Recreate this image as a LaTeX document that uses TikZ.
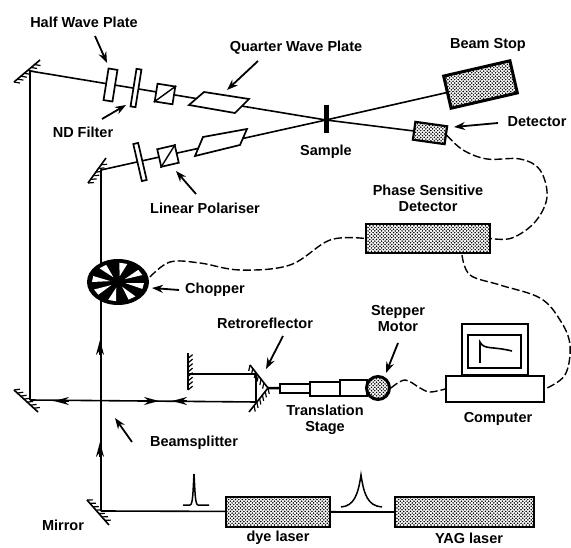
\documentclass[tikz,border=0pt]{standalone}
\usepackage{fontspec}
\setmainfont{Liberation Sans}
\usetikzlibrary{arrows.meta, decorations.pathreplacing, patterns}
\pgfdeclarepatternformonly{fine checks}{\pgfqpoint{-0.1pt}{-0.1pt}}{\pgfqpoint{3.5pt}{3.5pt}}{\pgfqpoint{3.4pt}{3.4pt}}{
  \pgfpathcircle{\pgfqpoint{0.85pt}{0.85pt}}{0.85pt}
  \pgfpathcircle{\pgfqpoint{2.55pt}{2.55pt}}{0.85pt}
  \pgfusepath{fill}}

\begin{document}
\begin{tikzpicture}[x=1pt, y=-1pt, >=Stealth,
    every node/.style={font=\bfseries\fontsize{14.5}{16}\selectfont, align=center, inner sep=0pt},
    beam/.style={line width=1.6pt},
    mirrorup/.style={line width=1.6pt, postaction={draw, line width=1.2pt, decorate,
        decoration={border, segment length=4.5pt, amplitude=6pt, angle=-50}}},
    mirrordown/.style={line width=1.6pt, postaction={draw, line width=1.2pt, decorate,
        decoration={border, segment length=4.5pt, amplitude=6pt, angle=50}}},
    optic/.style={draw, fill=white, line width=1.7pt},
    dotted box/.style={draw, line width=2.2pt, fill=white, postaction={pattern=fine checks}},
    plainbox/.style={draw, fill=white, line width=1.6pt},
    pointer/.style={line width=1.8pt, -{Stealth[length=11pt, width=8pt]}},
    flow/.style={-{Stealth[length=15pt, width=8pt]}, line width=1.6pt},
    wire/.style={dash pattern=on 8pt off 3pt, line width=1.4pt}]
    \useasboundingbox (0,0) rectangle (571,548);

    \coordinate (mirrorTop) at (30,71);
    \coordinate (mirrorLow) at (101,170);
    \coordinate (mirrorLeft) at (30,400);
    \coordinate (mirrorBase) at (101,511);
    \coordinate (crossing) at (326,120);
    \coordinate (stopEnd) at (480,85);
    \coordinate (detEnd) at (430,133);
    \coordinate (retroTop) at (256,374);
    \coordinate (retroLow) at (256,402);
    \coordinate (backMirror) at (189,374);
    \coordinate (retroTip) at (268,388);

    \draw[beam] (mirrorLeft) -- (mirrorTop) -- (crossing) -- (detEnd);
    \draw[beam] (mirrorBase) -- (mirrorLow) -- (crossing) -- (stopEnd);
    \draw[beam] (mirrorLeft) -- (retroLow) -- (retroTop) -- (backMirror);
    \draw[beam] (mirrorBase) -- (395,512);

    \draw[mirrorup] (14,82) -- (40,60);
    \draw[mirrorup] (88,183) -- (106,158);
    \draw[mirrordown] (14,390) -- (38,412);
    \draw[mirrordown] (87,500) -- (109,525);
    \draw[mirrorup] (188,390) -- (188,353);
    \draw[mirrorup] (250,365) -- (268,388);
    \draw[mirrordown] (268,388) -- (249,412);

    \node[optic, rotate=-9, minimum width=9pt, minimum height=32pt] (halfPlate) at (110.5,85) {};
    \node[optic, rotate=-9, minimum width=5pt, minimum height=38pt] (ndFilter) at (136,88) {};
    \node[optic, rotate=-9, minimum size=18pt] (cubeTop) at (165,94) {};
    \draw[line width=1.4pt] (cubeTop.south west) -- (cubeTop.north east);
    \draw[optic] (204,92) -- (249,99) -- (235,113) -- (189,105) -- cycle;

    \node[optic, rotate=13, minimum width=5pt, minimum height=38pt] (lowPlate) at (140,162) {};
    \node[optic, rotate=13, minimum size=18pt] (cubeLow) at (168,156) {};
    \draw[line width=1.4pt] (cubeLow.south west) -- (cubeLow.north east);
    \draw[optic] (203,137) -- (247,129) -- (240,145) -- (195,156) -- cycle;

    \draw[line width=5pt] (326,105) -- (326,133);
    \node[dotted box, rotate=13, minimum width=68pt, minimum height=33pt, line width=3pt] (beamStop) at (480.5,84.5) {};
    \node[dotted box, rotate=-8, minimum width=32pt, minimum height=18pt] (detector) at (430,133) {};
    \node[dotted box, minimum width=124pt, minimum height=29pt] (psd) at (428,238.5) {};
    \node[dotted box, minimum width=104pt, minimum height=30pt] (dyeLaser) at (278,512) {};
    \node[dotted box, minimum width=139pt, minimum height=30pt] (yagLaser) at (464.5,512) {};
    \draw[beam] (dyeLaser) -- (yagLaser);

    \fill (118,282) ellipse [x radius=31, y radius=23];
    \begin{scope}[shift={(118,282)}, x=31pt, y=23pt]
      \foreach \ang in {30,78,126,171,212,257,303,348}
        \fill[white] (\ang:0.25) -- (\ang-9:0.84) -- (\ang+9:0.84) -- cycle;
    \end{scope}
    \coordinate (chopperOut) at (150,277);

    \draw[flow] (100,355) -- (100,340);
    \draw[flow] (100,457) -- (100,442);
    \draw[flow] (69,401) -- (54,401);
    \draw[flow] (144,401) -- (159,401);
    \draw[flow] (187,401) -- (172,401);

    \node[plainbox, minimum width=30pt, minimum height=9pt] (rodStage) at (295,388.5) {};
    \node[plainbox, minimum width=30pt, minimum height=14pt] (midStage) at (325,389) {};
    \node[plainbox, minimum width=27pt, minimum height=16pt] (topStage) at (353.5,388) {};
    \draw[line width=2.5pt] (retroTip) -- (rodStage);
    \node[dotted box, circle, minimum size=23pt, line width=3pt] (motor) at (378,388) {};

    \node[plainbox, minimum width=98pt, minimum height=26pt] (computerBase) at (495,389) {};
    \node[plainbox, anchor=south, minimum width=66pt, minimum height=51pt] (monitor) at (495,376) {};
    \node[plainbox, minimum width=53pt, minimum height=33pt] (screen) at (494.5,351.5) {};
    \draw[line width=1.6pt] (480,363) -- (480,342) .. controls (484,350) and (492,346) .. (512,351);

    \draw[wire] plot[smooth, tension=0.6] coordinates {(detector.east) (463,150) (487,159) (520,159) (540,170) (547,197) (535,222) (512,238) (psd.east)};
    \draw[wire] plot[smooth, tension=0.6] coordinates {(chopperOut) (170,262) (200,263) (240,270) (290,265) (330,240) (psd.west)};
    \draw[wire] plot[smooth, tension=0.6] coordinates {(462,255) (470,275) (500,285) (540,298) (560,320) (570,345) (565,375) (computerBase.east)};
    \draw[wire] plot[smooth, tension=0.6] coordinates {(motor.east) (405,380) (420,388) (430,392) (computerBase.west)};

    \draw[line width=1.5pt] (183,505) -- (190,505) .. controls (193,505) and (193,490) .. (194,474)
      .. controls (195,490) and (195,505) .. (198,505) -- (209,505);
    \draw[line width=1.5pt] (341,507) .. controls (354,506) and (358,495) .. (361,475)
      .. controls (364,495) and (368,506) .. (382,507);

    \node (halfLabel) at (84,22) {Half Wave Plate};
    \node (quarterLabel) at (296,48) {Quarter Wave Plate};
    \node (stopLabel) at (488,45) {Beam Stop};
    \node (detectorLabel) at (537,122) {Detector};
    \node (sampleLabel) at (326,152) {Sample};
    \node (psdLabel) at (428,198) {Phase Sensitive\\Detector};
    \node (ndLabel) at (83,132) {ND Filter};
    \node (linearLabel) at (205,208) {Linear Polariser};
    \node (chopperLabel) at (215,290) {Chopper};
    \node (retroLabel) at (265,323) {Retroreflector};
    \node (motorLabel) at (398,319) {Stepper\\Motor};
    \node (stageLabel) at (325,420) {Translation\\Stage};
    \node (computerLabel) at (498,419) {Computer};
    \node (dyeLabel) at (278,538) {dye laser};
    \node (yagLabel) at (469,538) {YAG laser};
    \node (mirrorLabel) at (63,525) {Mirror};
    \node (splitLabel) at (194,443) {Beamsplitter};

    \coordinate (halfFrom) at (95,36);
    \coordinate (halfTo) at (107,63);
    \coordinate (quarterFrom) at (258,61);
    \coordinate (quarterTo) at (227,90);
    \coordinate (ndFrom) at (102,119);
    \coordinate (ndTo) at (126,105);
    \coordinate (linearFrom) at (196,194);
    \coordinate (linearTo) at (176,171);
    \coordinate (detectorFrom) at (498,123);
    \coordinate (detectorTo) at (454,127);
    \coordinate (chopperFrom) at (179,290);
    \coordinate (chopperTo) at (152,288);
    \coordinate (retroFrom) at (283,336);
    \coordinate (retroTo) at (266,369);
    \coordinate (motorFrom) at (398,343);
    \coordinate (motorTo) at (386,373);
    \coordinate (splitFrom) at (132,442);
    \coordinate (splitTo) at (115,418);
    \foreach \tag in {half,quarter,nd,linear,detector,chopper,retro,motor,split}
      \draw[pointer] (\tag From) -- (\tag To);
\end{tikzpicture}
\end{document}
